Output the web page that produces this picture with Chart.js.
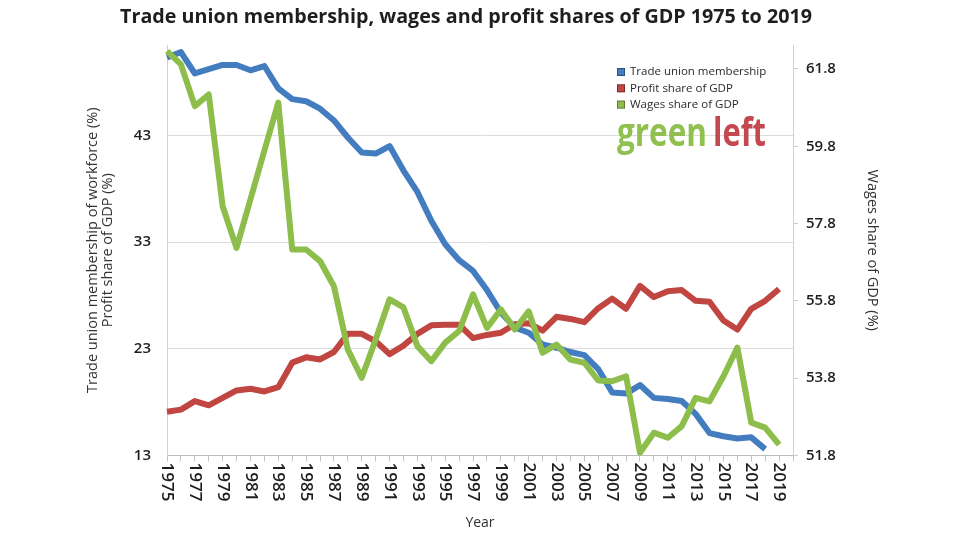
<!DOCTYPE html>
<html><head><meta charset="utf-8">
<script src="https://cdn.jsdelivr.net/npm/chart.js@4.4.0/dist/chart.umd.min.js"></script>
<style>html,body{margin:0;padding:0;background:#fff;}#wrap{width:960px;height:540px;position:relative}</style>
</head><body><div id="wrap"><canvas id="c" width="960" height="540"></canvas></div>
<script>
const chartTitle = 'Trade union membership, wages and profit shares of GDP 1975 to 2019';
const years = ['1975','1976','1977','1978','1979','1980','1981','1982','1983','1984','1985','1986','1987','1988','1989','1990','1991','1992','1993','1994','1995','1996','1997','1998','1999','2000','2001','2002','2003','2004','2005','2006','2007','2008','2009','2010','2011','2012','2013','2014','2015','2016','2017','2018','2019','2020'];
const xTickLabels = ['1975','1977','1979','1981','1983','1985','1987','1989','1991','1993','1995','1997','1999','2001','2003','2005','2007','2009','2011','2013','2015','2017','2019'];
const unionMembership = [50.3,50.8,48.8,49.2,49.6,49.6,49.1,49.5,47.4,46.4,46.2,45.5,44.4,42.8,41.4,41.3,42.0,39.7,37.7,35.0,32.8,31.3,30.3,28.5,26.4,25.0,24.5,23.4,23.1,22.7,22.4,21.1,18.9,18.8,19.6,18.4,18.3,18.1,16.9,15.1,14.8,14.6,14.7,13.6,null,null];
const profitShare = [17.1,17.3,18.1,17.7,18.4,19.1,19.25,19.0,19.4,21.7,22.2,22.0,22.7,24.4,24.4,23.7,22.5,23.3,24.4,25.2,25.25,25.25,24.0,24.3,24.5,25.3,25.4,24.7,26.0,25.8,25.5,26.8,27.7,26.75,28.9,27.85,28.4,28.5,27.5,27.4,25.65,24.8,26.75,27.5,28.6,null];
const wagesShare = [62.26,61.92,60.84,61.14,58.25,57.17,58.43,59.69,60.93,57.13,57.13,56.83,56.18,54.54,53.81,54.80,55.84,55.63,54.63,54.24,54.72,55.02,55.97,55.10,55.58,55.06,55.53,54.46,54.67,54.28,54.20,53.74,53.72,53.85,51.87,52.39,52.26,52.56,53.29,53.20,53.85,54.59,52.65,52.52,52.08,null];
const leftTicks = [13,23,33,43];
const rightTicks = [51.8,53.8,55.8,57.8,59.8,61.8];
const seriesNames = ['Trade union membership','Profit share of GDP','Wages share of GDP'];
const leftAxisTitle = ['Trade union membership of workforce (%)','Profit share of GDP (%)'];
const rightAxisTitle = 'Wages share of GDP (%)';
const xAxisTitle = 'Year';
const logoWords = ['green','left'];

const BLUE = '#437dc0', RED = '#c14540', GREEN = '#8dbd4a';
const FONT = '"Open Sans", "DejaVu Sans", sans-serif';

const titlePlugin = {
  id: 'mainTitle',
  afterDraw(chart) {
    const ctx = chart.ctx;
    ctx.save();
    ctx.font = 'bold 19px ' + FONT;
    ctx.fillStyle = '#1e1e1e';
    ctx.textBaseline = 'middle';
    ctx.textAlign = 'left';
    const w = ctx.measureText(chartTitle).width;
    const sx = 692 / w;
    ctx.translate(120, 18);
    ctx.scale(sx, 1);
    ctx.fillText(chartTitle, 0, 0);
    ctx.restore();
  }
};

const xLabelPlugin = {
  id: 'xLabels',
  afterDraw(chart) {
    const ctx = chart.ctx, xs = chart.scales.x;
    ctx.save();
    ctx.font = '600 17px ' + FONT;
    ctx.fillStyle = '#1e1e1e';
    ctx.textAlign = 'left';
    ctx.textBaseline = 'middle';
    xTickLabels.forEach(lbl => {
      const x = xs.getPixelForValue(years.indexOf(lbl));
      ctx.save();
      ctx.translate(x, xs.top + 7);
      ctx.rotate(Math.PI / 2);
      ctx.fillText(lbl, 0, 0);
      ctx.restore();
    });
    ctx.restore();
  }
};

const legendPlugin = {
  id: 'customLegend',
  afterDraw(chart) {
    const ctx = chart.ctx;
    ctx.save();
    ctx.font = '500 11.5px ' + FONT;
    ctx.textBaseline = 'middle';
    ctx.textAlign = 'left';
    chart.data.datasets.forEach((ds, i) => {
      const y = 72 + i * 16.3;
      ctx.fillStyle = ds.borderColor;
      ctx.fillRect(617, y - 4, 8, 8);
      ctx.strokeStyle = 'rgba(0,0,0,0.35)';
      ctx.lineWidth = 1;
      ctx.strokeRect(617.5, y - 3.5, 7, 7);
      ctx.fillStyle = '#2a2a2a';
      ctx.fillText(ds.label, 630, y);
    });
    ctx.font = 'bold 39px ' + FONT;
    ctx.textBaseline = 'alphabetic';
    const w1 = ctx.measureText(logoWords[0]).width;
    ctx.save();
    ctx.translate(617, 146);
    ctx.scale(90 / w1, 1);
    ctx.fillStyle = '#8fc050';
    ctx.fillText(logoWords[0], 0, 0);
    ctx.restore();
    const w2 = ctx.measureText(logoWords[1]).width;
    ctx.save();
    ctx.translate(713, 146);
    ctx.scale(53 / w2, 1);
    ctx.fillStyle = '#c4484f';
    ctx.fillText(logoWords[1], 0, 0);
    ctx.restore();
    ctx.restore();
  }
};

const lineStyle = { borderWidth: 6, pointRadius: 0, pointHoverRadius: 0, tension: 0, fill: false, borderJoinStyle: 'round', borderCapStyle: 'butt', spanGaps: false };

new Chart(document.getElementById('c'), {
  type: 'line',
  data: {
    labels: years,
    datasets: [
      Object.assign({ label: seriesNames[0], data: unionMembership, borderColor: BLUE, backgroundColor: BLUE, yAxisID: 'y', order: 1 }, lineStyle),
      Object.assign({ label: seriesNames[1], data: profitShare, borderColor: RED, backgroundColor: RED, yAxisID: 'y', order: 2 }, lineStyle),
      Object.assign({ label: seriesNames[2], data: wagesShare, borderColor: GREEN, backgroundColor: GREEN, yAxisID: 'y2', order: 0 }, lineStyle)
    ]
  },
  options: {
    responsive: false,
    animation: false,
    devicePixelRatio: 1,
    layout: { padding: { top: 45, left: 0, right: 0, bottom: 0 } },
    plugins: { legend: { display: false }, tooltip: { enabled: false }, title: { display: false } },
    scales: {
      x: {
        type: 'category',
        offset: false,
        grid: { display: true, drawOnChartArea: false, drawTicks: true, tickLength: 6, color: '#c4c4c4' },
        border: { display: true, color: '#bdbdbd', width: 1 },
        ticks: { display: false },
        title: { display: true, text: xAxisTitle, color: '#333', font: { family: FONT, size: 14, lineHeight: 1.1 }, padding: { top: 0, bottom: 9.5 } },
        afterFit(s) { s.height = 84.5; }
      },
      y: {
        position: 'left',
        min: 13,
        max: 51.47,
        afterBuildTicks(s) { s.ticks = leftTicks.map(v => ({ value: v })); },
        grid: { color: '#dcdcdc', drawTicks: false, lineWidth: 1 },
        border: { display: true, color: '#d0d0d0' },
        ticks: { padding: 16, color: '#1e1e1e', font: { family: FONT, size: 15, weight: '600' } },
        title: { display: true, text: leftAxisTitle, color: '#333', font: { family: FONT, size: 14.5, lineHeight: 1.04 }, padding: { top: 85.5, bottom: 0 } },
        afterFit(s) { s.width = 167; }
      },
      y2: {
        position: 'right',
        min: 51.8,
        max: 62.42,
        afterBuildTicks(s) { s.ticks = rightTicks.map(v => ({ value: v })); },
        grid: { drawOnChartArea: false, drawTicks: true, tickLength: 5, color: '#cccccc' },
        border: { display: true, color: '#d0d0d0' },
        ticks: { padding: 8, color: '#1e1e1e', font: { family: FONT, size: 15, weight: '600' }, callback: v => v.toFixed(1) },
        title: { display: true, text: rightAxisTitle, color: '#333', font: { family: FONT, size: 14.5, lineHeight: 1.04 }, padding: { top: 80.5, bottom: 0 } },
        afterFit(s) { s.width = 167; }
      }
    }
  },
  plugins: [titlePlugin, xLabelPlugin, legendPlugin]
});
</script></body></html>
